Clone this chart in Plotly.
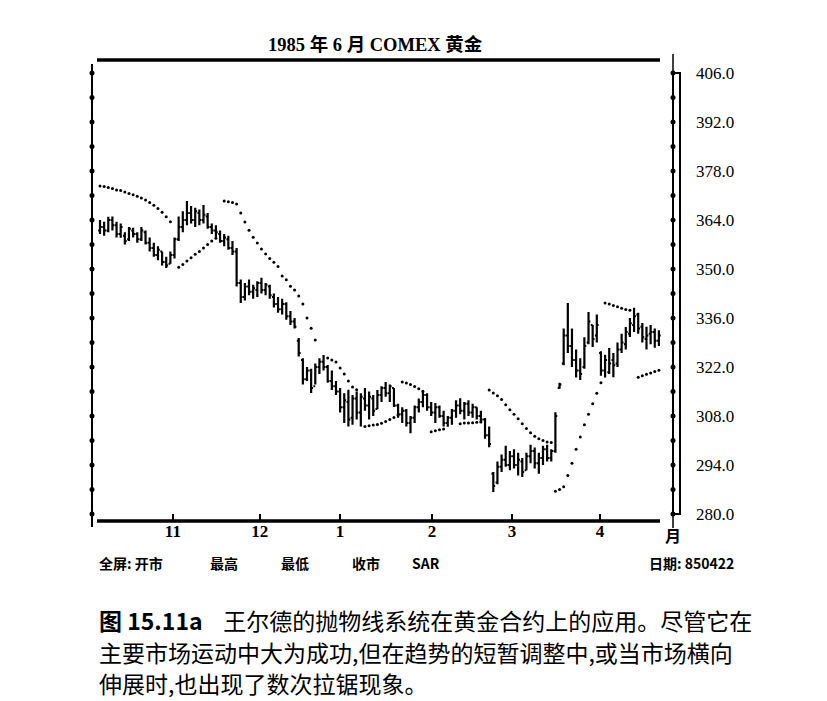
import plotly.graph_objects as go

# daily bars, Oct 1984 - Apr 1985 (trading day index)
opens = [361.0, 362.0, 361.0, 364.0, 362.5, 360.0, 359.5, 358.5, 361.0, 360.0,
         358.5, 360.5, 357.5, 356.0, 354.0, 355.0, 352.0, 351.5, 354.0, 358.5,
         362.0, 364.0, 366.0, 364.0, 366.0, 364.0, 365.0, 362.0, 361.0, 360.0,
         358.0, 358.5, 356.0, 355.0, 346.0, 342.0, 345.0, 343.5, 344.0, 346.0,
         344.0, 345.0, 342.0, 340.0, 338.5, 340.0, 336.5, 335.0, 329.5, 324.0,
         318.5, 321.0, 316.5, 322.0, 323.5, 322.0, 318.0, 316.5, 315.0, 310.5,
         312.0, 307.5, 313.0, 309.0, 313.0, 311.0, 313.0, 310.0, 314.0, 316.0,
         314.5, 316.0, 311.0, 308.5, 309.5, 306.0, 307.5, 310.5, 312.0, 314.0,
         310.5, 309.0, 310.5, 308.0, 306.0, 307.5, 309.5, 311.0, 309.5, 311.5,
         309.0, 310.5, 308.0, 307.0, 302.5, 291.5, 289.0, 293.5, 295.5, 294.0,
         296.5, 294.0, 295.0, 292.5, 296.5, 298.0, 294.5, 296.0, 298.5, 296.0,
         298.0, 316.0, 323.0, 331.0, 328.0, 324.0, 321.0, 322.0, 329.0, 334.0,
         331.0, 326.0, 321.0, 320.5, 324.0, 323.0, 327.0, 328.5, 331.5, 334.0,
         337.0, 333.5, 330.0, 331.5, 332.0, 329.5]
highs = [364.0, 363.5, 364.9, 365.0, 363.5, 363.0, 360.5, 362.0, 361.8, 360.5,
         362.0, 361.0, 359.0, 357.5, 356.5, 355.0, 353.5, 355.0, 359.0, 365.0,
         366.5, 369.4, 368.0, 367.5, 367.0, 368.3, 366.0, 363.0, 362.5, 361.0,
         360.0, 359.5, 358.0, 356.0, 347.0, 346.0, 347.0, 345.5, 346.5, 347.5,
         346.0, 345.5, 343.0, 342.0, 341.5, 340.5, 338.0, 336.0, 330.3, 324.5,
         322.0, 321.5, 323.0, 324.5, 325.4, 322.6, 321.0, 318.0, 316.0, 314.5,
         315.5, 314.0, 315.0, 314.5, 316.0, 315.0, 314.0, 315.4, 316.5, 317.7,
         317.0, 316.0, 311.5, 310.5, 310.0, 308.0, 311.0, 313.0, 315.4, 314.5,
         312.0, 311.7, 311.0, 309.5, 308.0, 310.0, 312.5, 313.1, 312.0, 312.5,
         311.5, 310.5, 309.5, 307.4, 305.0, 292.0, 295.0, 297.0, 299.5, 298.0,
         298.5, 297.5, 296.0, 297.5, 299.8, 299.0, 297.5, 299.5, 299.8, 298.5,
         309.1, 317.5, 333.0, 340.3, 333.0, 327.0, 324.5, 330.5, 337.7, 334.0,
         337.0, 326.5, 325.5, 327.4, 326.0, 329.0, 331.5, 333.4, 336.0, 338.9,
         337.5, 334.6, 333.5, 334.0, 333.0, 332.5]
lows = [360.0, 359.5, 360.5, 361.0, 359.0, 358.9, 357.0, 358.0, 359.0, 357.5,
        358.0, 357.0, 355.0, 353.5, 352.5, 351.0, 350.3, 351.5, 353.0, 358.0,
        360.5, 362.5, 363.0, 362.0, 362.5, 363.0, 361.5, 360.0, 359.0, 357.5,
        356.5, 355.5, 354.0, 345.0, 340.3, 341.0, 342.5, 341.5, 342.0, 343.0,
        342.5, 341.5, 339.0, 337.5, 337.0, 335.5, 334.0, 333.0, 325.0, 317.0,
        318.0, 314.6, 317.0, 320.0, 321.0, 317.5, 315.4, 314.0, 309.0, 306.0,
        305.0, 305.5, 307.0, 305.0, 309.5, 307.0, 308.0, 310.0, 312.0, 313.5,
        312.0, 310.6, 307.5, 306.0, 305.0, 303.1, 306.0, 309.0, 310.5, 309.5,
        308.0, 306.0, 307.5, 305.0, 304.9, 305.5, 307.5, 308.5, 307.0, 308.0,
        307.5, 307.0, 306.0, 301.5, 299.1, 286.3, 288.5, 292.0, 293.5, 292.5,
        293.0, 291.0, 290.6, 292.5, 294.5, 293.0, 291.5, 294.0, 295.0, 295.0,
        297.5, 315.8, 322.5, 326.0, 322.0, 319.0, 318.3, 321.5, 328.5, 327.7,
        329.0, 319.5, 319.0, 320.0, 319.1, 322.0, 326.0, 327.0, 330.6, 332.0,
        331.5, 329.0, 327.0, 328.5, 327.5, 328.0]
closes = [362.0, 361.0, 364.0, 362.5, 360.0, 362.0, 358.0, 361.5, 360.0, 358.5,
          361.0, 357.5, 356.0, 354.0, 355.5, 352.0, 351.0, 354.0, 358.5, 362.0,
          364.0, 366.0, 364.0, 366.5, 364.0, 365.5, 362.0, 361.0, 360.5, 358.0,
          359.0, 356.0, 355.0, 346.0, 342.0, 345.0, 343.5, 344.5, 346.0, 344.0,
          345.5, 342.5, 340.0, 338.5, 340.0, 336.5, 335.0, 333.5, 326.0, 318.5,
          321.0, 316.0, 322.0, 323.5, 322.0, 318.0, 316.5, 315.0, 310.5, 312.5,
          307.0, 313.0, 309.0, 313.5, 311.0, 313.5, 309.5, 314.0, 316.0, 314.5,
          316.5, 311.0, 308.5, 309.5, 306.0, 307.5, 310.5, 312.0, 314.0, 310.5,
          309.0, 310.5, 308.0, 306.0, 307.5, 309.5, 311.0, 309.5, 311.5, 309.0,
          310.5, 308.0, 307.0, 302.5, 300.0, 288.0, 293.5, 295.5, 294.0, 296.5,
          294.0, 295.5, 292.0, 296.5, 298.0, 294.5, 296.0, 298.5, 296.0, 298.0,
          308.0, 317.0, 331.0, 328.0, 324.0, 321.0, 320.0, 328.0, 335.0, 330.0,
          334.0, 321.0, 324.0, 323.0, 322.5, 327.0, 329.0, 332.0, 334.5, 336.5,
          333.0, 330.5, 331.0, 332.0, 329.5, 331.0]

# Wilder parabolic SAR dots (None = no dot)
sar = [373.7, 373.6, 373.3, 373.0, 372.6, 372.4, 372.0, 371.6, 371.2, 370.8,
       370.3, 369.7, 369.0, 368.2, 367.3, 366.2, 364.9, 363.5, None, 350.5,
       351.3, 352.3, 353.2, 354.2, 355.0, 356.0, 357.0, 358.0, 358.8, None,
       369.4, 369.2, 369.0, 368.6, 366.0, 363.4, 361.1, 359.1, 357.4, 355.7,
       354.3, 353.0, 351.9, 350.7, 348.0, 346.9, 345.1, 344.0, 342.3, 340.0,
       336.0, 333.1, 329.7, None, None, 324.6, 324.0, 323.4, 321.7, 320.0,
       318.0, 316.3, 315.5, None, 305.0, 305.2, 305.4, 305.6, 305.9, 306.4,
       307.0, 307.6, 308.3, 317.7, 317.4, 317.0, 316.4, 315.8, 315.0, None,
       303.5, 303.8, 304.1, 304.3, None, None, None, 305.8, 306.0, 306.0,
       306.1, 306.2, 306.3, None, 315.4, 314.6, 313.8, 312.7, 311.2, 309.8,
       308.5, 307.2, 305.8, 304.4, 303.2, 302.2, 301.5, 301.0, 300.6, 300.4,
       286.5, 287.0, 287.8, 291.0, 294.5, 298.5, 302.0, 305.5, 308.5, 311.5,
       314.5, 317.5, 340.3, 340.0, 339.6, 339.2, 338.8, 338.4, 338.2, None,
       319.1, 319.5, 319.9, 320.3, 320.7, 321.1]

days = list(range(len(closes)))
month_idx = [17.6, 38.6, 58, 80.2, 99.5, 120.8]
month_labels = ['11', '12', '1', '2', '3', '4']
price_ticks = [406, 392, 378, 364, 350, 336, 322, 308, 294, 280]
dot_levels = list(range(280, 407, 7))

# page has an 8px body margin, so the figure is drawn 8px smaller
OFF = 8
W, H = 827 - OFF, 701 - OFF
L, R, T, B = 92, 673, 60, 521   # plot box in page pixels

def px(x):
    return (x - L) / (R - L)

def py(y):
    return (B - y) / (B - T)

serif = 'Liberation Serif, Noto Sans CJK SC'
cjk = 'Noto Sans CJK SC, Liberation Serif'

fig = go.Figure()

fig.add_trace(go.Ohlc(
    x=days, open=opens, high=highs, low=lows, close=closes,
    increasing=dict(line=dict(color='black', width=2.2)),
    decreasing=dict(line=dict(color='black', width=2.2)),
    tickwidth=0.45, hoverinfo='skip', showlegend=False))

fig.add_trace(go.Scatter(
    x=days, y=sar, mode='markers',
    marker=dict(color='black', size=3),
    hoverinfo='skip', showlegend=False))

shapes = []
# frame
shapes.append(dict(type='line', xref='paper', yref='paper', x0=px(97), x1=px(660), y0=1, y1=1,
                   line=dict(color='black', width=3.5)))
shapes.append(dict(type='line', xref='paper', yref='paper', x0=px(97), x1=px(660), y0=0, y1=0,
                   line=dict(color='black', width=3.5)))
shapes.append(dict(type='line', xref='paper', yref='paper', x0=0, x1=0, y0=py(527), y1=py(64),
                   line=dict(color='black', width=2)))
shapes.append(dict(type='line', xref='paper', yref='paper', x0=1, x1=1, y0=py(528), y1=py(54),
                   line=dict(color='black', width=1.5)))
shapes.append(dict(type='rect', xref='paper', yref='y', x0=1, x1=px(680), y0=280, y1=406,
                   line=dict(color='black', width=2)))
# tick dots on both price axes
for lv in dot_levels:
    for xp in (0, 1):
        shapes.append(dict(type='circle', xref='paper', yref='y', xsizemode='pixel', ysizemode='pixel',
                           xanchor=xp, yanchor=lv, x0=-2.5, x1=2.5, y0=-2.5, y1=2.5,
                           fillcolor='black', line=dict(color='black', width=0)))

def note(text, x, y, size, family=cjk, anchor='center'):
    return dict(text=text, xref='paper', yref='paper', x=px(x), y=py(y),
                xanchor=anchor, yanchor='middle', showarrow=False,
                font=dict(family=family, size=size, color='black'))

annotations = []
annotations.append(note('<b>1985 年 6 月 COMEX 黄金</b>', 375, 45, 18.5, serif))
annotations.append(note('<b>月</b>', 673, 535, 16))

legend_items = ['全屏: 开市', '最高', '最低', '收市', 'SAR']
legend_x = [97, 208, 279, 350, 410]
for txt, lx in zip(legend_items, legend_x):
    annotations.append(note('<b>' + txt + '</b>', lx, 563, 14, anchor='left'))
annotations.append(note('<b>日期: 850422</b>', 736, 563, 14, anchor='right'))

caption = ['<b>图 15.11a</b>    王尔德的抛物线系统在黄金合约上的应用。尽管它在',
           '主要市场运动中大为成功,但在趋势的短暂调整中,或当市场横向',
           '伸展时,也出现了数次拉锯现象。']
for k, line in enumerate(caption):
    annotations.append(note(line, 97, 620 + 31.5 * k, 23, anchor='left'))

fig.update_layout(
    width=W, height=H,
    margin=dict(l=L - OFF, r=W - (R - OFF), t=T - OFF, b=H - (B - OFF)),
    paper_bgcolor='white', plot_bgcolor='white',
    shapes=shapes, annotations=annotations,
    showlegend=False)

fig.update_xaxes(
    range=[(L - 100) / 4.14, (R - 100) / 4.14],
    rangeslider=dict(visible=False),
    showgrid=False, zeroline=False, showline=False,
    tickvals=month_idx, ticktext=['<b>' + m + '</b>' for m in month_labels],
    ticks='inside', ticklen=7, tickwidth=2, tickcolor='black',
    ticklabelstandoff=-2,
    tickfont=dict(family=serif, size=17, color='black'))

fig.update_yaxes(
    range=[280 - (B - 514) / 3.5, 406 + (73 - T) / 3.5],
    side='right', showgrid=False, zeroline=False, showline=False,
    tickvals=price_ticks, ticktext=['%.1f' % v for v in price_ticks],
    ticks='', ticklabelstandoff=22,
    tickfont=dict(family=serif, size=17, color='black'))

fig.write_html("out.html")
